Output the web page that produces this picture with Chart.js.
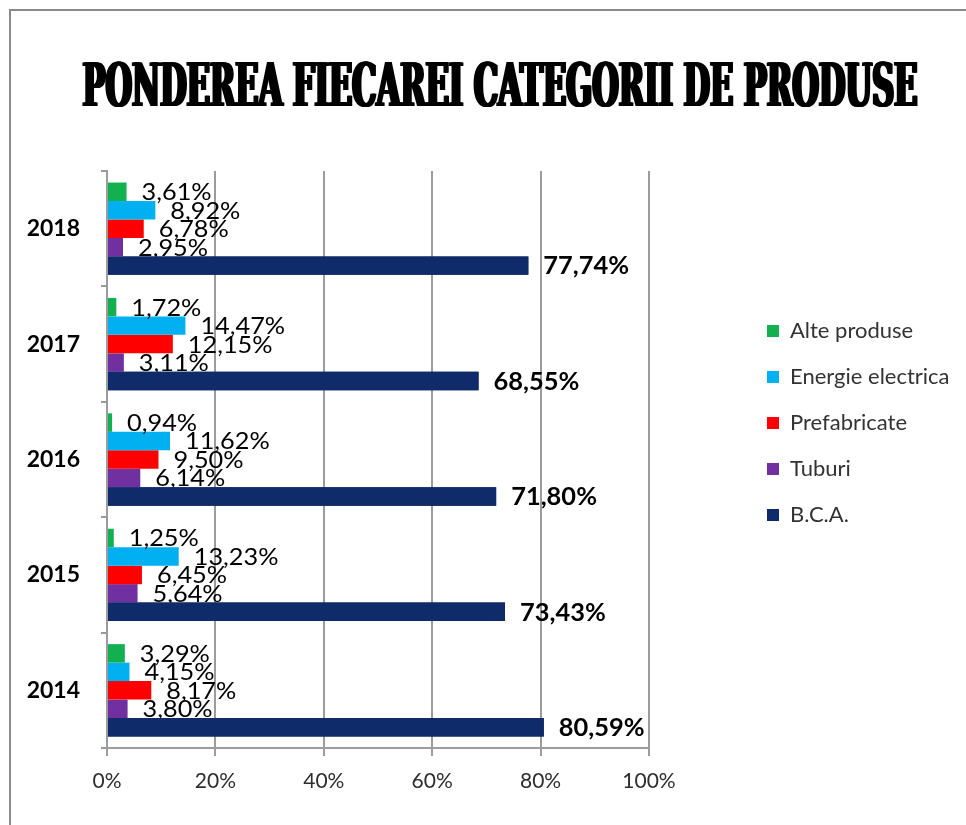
<!DOCTYPE html>
<html>
<head>
<meta charset="utf-8">
<script src="https://cdn.jsdelivr.net/npm/chart.js@4.4.1/dist/chart.umd.min.js"></script>
<style>
html, body { margin: 0; padding: 0; background: #ffffff; }
#wrap { position: relative; width: 966px; height: 825px; overflow: hidden; background: #ffffff; }
#c { position: absolute; left: 0; top: 0; }
#frame { position: absolute; left: 9px; top: 9px; right: -20px; bottom: -20px;
  border-top: 2px solid #8a8a8a; border-left: 2px solid #8a8a8a; pointer-events: none; }
</style>
</head>
<body>
<div id="wrap">
  <canvas id="c" width="966" height="825"></canvas>
  <div id="frame"></div>
</div>
<script>
// ---- data (categories listed top to bottom as displayed) ----
const titleText = 'PONDEREA FIECAREI CATEGORII DE PRODUSE';
const categories = ['2018', '2017', '2016', '2015', '2014'];
const seriesNames = ['Alte produse', 'Energie electrica', 'Prefabricate', 'Tuburi', 'B.C.A.'];
const alteProduse = [3.61, 1.72, 0.94, 1.25, 3.29];
const energieElectrica = [8.92, 14.47, 11.62, 13.23, 4.15];
const prefabricate = [6.78, 12.15, 9.50, 6.45, 8.17];
const tuburi = [2.95, 3.11, 6.14, 5.64, 3.80];
const bca = [77.74, 68.55, 71.80, 73.43, 80.59];
const xTickValues = [0, 20, 40, 60, 80, 100];

// ---- styling / layout ----
const seriesColors = ['#13b04f', '#00b0f0', '#ff0000', '#7030a0', '#0f2b69'];
const LEFT_AXIS_W = 107;      // chart area left edge
const LEGEND_BOX_W = 317;     // space right of the chart area
const BOTTOM_AXIS_H = 77;
const LEGEND_X = 768, LEGEND_Y = 321, LEGEND_PAD = 25;
const TITLE_CX = 500, TITLE_W = 835;

const fmt = v => v.toFixed(2).replace('.', ',') + '%';

const seriesData = [alteProduse, energieElectrica, prefabricate, tuburi, bca];
const datasets = seriesNames.map((name, i) => ({
  label: name,
  data: seriesData[i],
  backgroundColor: seriesColors[i],
  borderWidth: 0,
  categoryPercentage: 0.8,
  barPercentage: 1.0
}));

const layoutTweaks = {
  id: 'layoutTweaks',
  afterInit(chart) {
    const lg = chart.legend;
    if (lg && !lg.__p) {
      const origFit = lg.fit;
      lg.fit = function () { origFit.apply(this, arguments); this.width = LEGEND_BOX_W; };
      lg.__p = true;
    }
  },
  afterLayout(chart) {
    const lg = chart.legend;
    if (lg) {
      lg.left = LEGEND_X - LEGEND_PAD;
      lg.right = lg.left + lg.width;
      lg.top = LEGEND_Y - LEGEND_PAD;
    }
  },
  beforeDraw(chart) {
    const tb = chart.titleBlock;
    if (tb && !tb.__p) {
      const orig = tb.draw;
      tb.draw = function () {
        const ctx = this.ctx;
        const o = this.options;
        ctx.save();
        ctx.font = o.font.weight + ' ' + o.font.size + 'px ' + o.font.family;
        const w = Math.min(ctx.measureText(o.text).width, this.right - this.left);
        ctx.restore();
        const sx = TITLE_W / w;
        const cx = (this.left + this.right) / 2;
        // heavy face: draw with small horizontal offsets to thicken strokes
        [-1.6, -0.8, 0, 0.8, 1.6].forEach(dx => {
          ctx.save();
          ctx.translate(TITLE_CX + dx, 0);
          ctx.scale(sx, 1);
          ctx.translate(-cx, 0);
          orig.apply(this, arguments);
          ctx.restore();
        });
      };
      tb.__p = true;
    }
  }
};

const valueLabels = {
  id: 'valueLabels',
  afterDatasetsDraw(chart) {
    const ctx = chart.ctx;
    const n = chart.data.datasets.length;
    const put = (text, x, y, sx) => {
      ctx.save();
      ctx.translate(x, y);
      ctx.scale(sx, 1);
      ctx.fillText(text, 0, 0);
      ctx.restore();
    };
    ctx.save();
    ctx.textBaseline = 'middle';
    ctx.textAlign = 'left';
    ctx.fillStyle = '#000000';
    ctx.font = '23px Lato';
    for (let d = 0; d < n - 1; d++) {
      const meta = chart.getDatasetMeta(d);
      meta.data.forEach((el, i) => {
        put(fmt(chart.data.datasets[d].data[i]), el.x + 15, el.y + 1, 1.1);
      });
    }
    const mainMeta = chart.getDatasetMeta(n - 1);
    mainMeta.data.forEach(el => el.draw(ctx, chart.chartArea));
    ctx.font = 'bold 24px Lato';
    ctx.fillStyle = '#000000';
    mainMeta.data.forEach((el, i) => {
      put(fmt(chart.data.datasets[n - 1].data[i]), el.x + 15, el.y + 1, 1.06);
    });
    ctx.restore();
  }
};

new Chart(document.getElementById('c'), {
  type: 'bar',
  data: { labels: categories, datasets: datasets },
  plugins: [layoutTweaks, valueLabels],
  options: {
    indexAxis: 'y',
    responsive: false,
    animation: false,
    devicePixelRatio: 1,
    layout: { padding: { left: 0, right: 0, top: 0, bottom: 0 } },
    scales: {
      x: {
        type: 'linear',
        position: 'bottom',
        min: 0,
        max: 100,
        afterBuildTicks: s => { s.ticks = xTickValues.map(v => ({ value: v })); },
        afterFit: s => { s.height = BOTTOM_AXIS_H; },
        ticks: {
          callback: v => v + '%',
          font: { family: 'Lato', size: 21 },
          color: '#2e2e2e',
          padding: 13,
          maxRotation: 0
        },
        grid: { color: '#9c9c9c', lineWidth: 2, tickLength: 8, tickColor: '#9c9c9c', drawOnChartArea: true },
        border: { display: true, color: '#9c9c9c', width: 2 }
      },
      y: {
        type: 'category',
        offset: true,
        afterFit: s => { s.width = LEFT_AXIS_W; },
        ticks: {
          font: { family: 'Lato', size: 23, weight: 'bold' },
          color: '#000000',
          padding: 21
        },
        grid: { offset: true, drawOnChartArea: false, tickLength: 6, color: '#9c9c9c', lineWidth: 2 },
        border: { display: true, color: '#9c9c9c', width: 2 }
      }
    },
    plugins: {
      title: {
        display: true,
        text: titleText,
        color: '#000000',
        font: { family: '"DejaVu Serif Condensed", "DejaVu Serif"', size: 59, weight: 'bold', lineHeight: 1 },
        padding: { top: 61, bottom: 51 }
      },
      legend: {
        display: true,
        position: 'right',
        align: 'start',
        labels: {
          boxWidth: 12,
          boxHeight: 12,
          padding: LEGEND_PAD - 1,
          color: '#333333',
          font: { family: 'Lato', size: 22 }
        }
      },
      tooltip: { enabled: false }
    }
  }
});
</script>
</body>
</html>
